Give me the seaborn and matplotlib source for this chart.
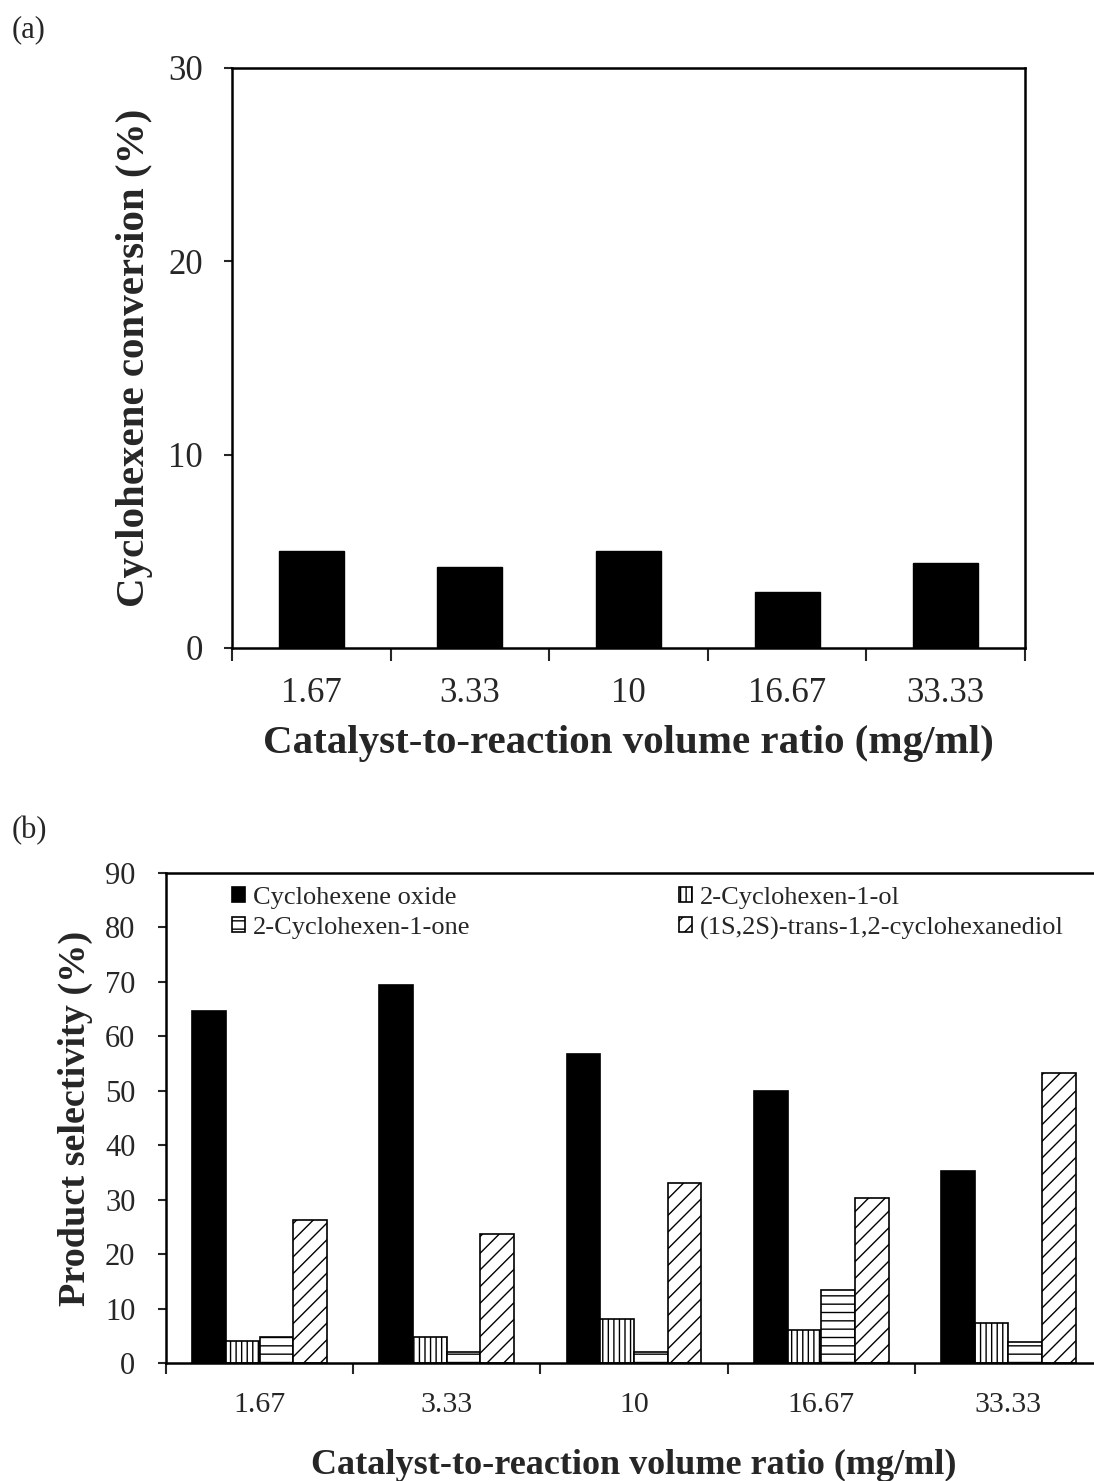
import matplotlib
matplotlib.use("Agg")
import matplotlib.pyplot as plt
import seaborn as sns
import pandas as pd

# ratios (mg/ml)
ratios = ["1.67", "3.33", "10", "16.67", "33.33"]

# (a) conversion
conversion = [5.0, 4.2, 5.0, 2.9, 4.4]

# (b) selectivity
products = ["Cyclohexene oxide", "2-Cyclohexen-1-ol", "2-Cyclohexen-1-one",
            "(1S,2S)-trans-1,2-cyclohexanediol"]
sel_oxide = [64.7, 69.4, 56.8, 50.0, 35.3]
sel_ol = [4.0, 4.8, 8.1, 6.1, 7.4]
sel_one = [4.8, 2.0, 2.0, 13.4, 3.9]
sel_diol = [26.3, 23.7, 33.0, 30.3, 53.3]

bar_colors = ["black", "white", "white", "white"]
hatches = ["", "|||", "--", "//"]

sns.set_style("white")
plt.rcParams["font.family"] = ["Liberation Serif", "DejaVu Serif"]
plt.rcParams["hatch.linewidth"] = 1.0

fig = plt.figure(figsize=(10.94, 14.81), dpi=100)

# ---------- (a) ----------
ax1 = fig.add_axes([232 / 1094, 833 / 1481, 793 / 1094, 580 / 1481])
df_a = pd.DataFrame({"ratio": ratios, "conv": conversion})
sns.barplot(data=df_a, x="ratio", y="conv", color="black", width=0.41,
            saturation=1, edgecolor="black", ax=ax1)
ax1.set_ylim(0, 30)
ax1.set_xlim(-0.5, 4.5)
ax1.set_yticks([0, 10, 20, 30])
ax1.set_xticks([i - 0.5 for i in range(6)], minor=True)
ax1.tick_params(axis="x", which="major", length=0, pad=21, labelsize=25)
ax1.tick_params(axis="x", which="minor", length=9, width=1.5, direction="out", bottom=True)
ax1.tick_params(axis="y", length=6, width=1.5, direction="out", left=True, pad=15, labelsize=25)
for s in ax1.spines.values():
    s.set_linewidth(1.8)
    s.set_color("black")
ax1.set_ylabel("Cyclohexene conversion (%)", fontsize=29.5, fontweight="bold", labelpad=11)
ax1.set_xlabel("Catalyst-to-reaction volume ratio (mg/ml)", fontsize=29.5,
               fontweight="bold", labelpad=11)
fig.text(12 / 1094, 1 - 30 / 1481, "(a)", fontsize=22, va="center", ha="left")

# ---------- (b) ----------
ax2 = fig.add_axes([166 / 1094, 118 / 1481, 936 / 1094, 490 / 1481])
df_b = pd.DataFrame({
    "ratio": ratios * 4,
    "product": sum([[p] * len(ratios) for p in products], []),
    "sel": sel_oxide + sel_ol + sel_one + sel_diol,
})
sns.barplot(data=df_b, x="ratio", y="sel", hue="product", hue_order=products,
            palette=bar_colors, saturation=1, width=0.72, edgecolor="black",
            linewidth=1.2, legend=False, ax=ax2)
for cont, h in zip(ax2.containers, hatches):
    for p in cont:
        p.set_hatch(h)
ax2.set_ylim(0, 90)
ax2.set_xlim(-0.5, 4.5)
ax2.set_yticks(range(0, 91, 10))
ax2.set_xticks([i - 0.5 for i in range(6)], minor=True)
ax2.tick_params(axis="x", which="major", length=0, pad=21, labelsize=21.5)
ax2.tick_params(axis="x", which="minor", length=8, width=1.5, direction="out", bottom=True)
ax2.tick_params(axis="y", length=6, width=1.5, direction="out", left=True, pad=16, labelsize=22)
for s in ax2.spines.values():
    s.set_linewidth(1.8)
    s.set_color("black")
ax2.spines["right"].set_visible(False)
ax2.set_ylabel("Product selectivity (%)", fontsize=27.5, fontweight="bold", labelpad=9)
ax2.set_xlabel("Catalyst-to-reaction volume ratio (mg/ml)", fontsize=26,
               fontweight="bold", labelpad=22)

conts = ax2.containers
ax2.legend([conts[0], conts[2], conts[1], conts[3]],
           [products[0], products[2], products[1], products[3]],
           ncol=2, loc="upper left", bbox_to_anchor=(66 / 936, 0.972),
           frameon=False, fontsize=19, handlelength=0.5, handleheight=0.5,
           handletextpad=0.3, labelspacing=0.3, columnspacing=7.9, borderpad=0,
           borderaxespad=0)
fig.text(12 / 1094, 1 - 831 / 1481, "(b)", fontsize=22, va="center", ha="left")

fig.savefig("out.png", dpi=100)
